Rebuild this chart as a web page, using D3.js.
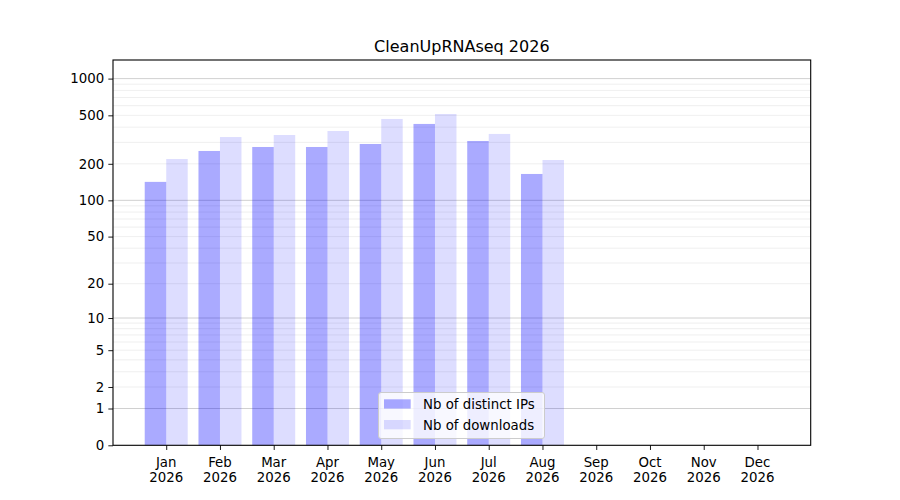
<!DOCTYPE html>
<html><head><meta charset="utf-8">
<script src="https://cdn.jsdelivr.net/npm/d3@7"></script>
<style>
body{margin:0;background:#fff;}
svg{font-family:"DejaVu Sans",sans-serif;}
</style></head>
<body><svg id="c" width="900" height="500"></svg>
<script>
const months = ["Jan","Feb","Mar","Apr","May","Jun","Jul","Aug","Sep","Oct","Nov","Dec"];
const year = "2026";
const distinctIPs = [142,255,275,275,291,425,308,165,0,0,0,0];
const downloads   = [219,332,345,372,467,513,352,215,0,0,0,0];
const yTicks = [0,1,2,5,10,20,50,100,200,500,1000];
const majorGrid = [1,10,100,1000];
const minorGrid = [2,3,4,5,6,7,8,9,20,30,40,50,60,70,80,90,200,300,400,500,600,700,800,900];
const title = "CleanUpRNAseq 2026";
const seriesNames = ["Nb of distinct IPs","Nb of downloads"];

const svg = d3.select("#c");
const L=113, R=810.7, T=60, B=445.3;
const x = d3.scaleLinear().domain([-0.99, 11.99]).range([L,R]);
const y = d3.scaleSymlog().constant(1).domain([0,1420]).range([B,T]);

// grid
svg.append("g").selectAll("line").data(minorGrid).join("line")
  .attr("x1",L).attr("x2",R).attr("y1",d=>y(d)).attr("y2",d=>y(d))
  .attr("stroke","#ebebeb").attr("stroke-width",0.8);
svg.append("g").selectAll("line").data(majorGrid).join("line")
  .attr("x1",L).attr("x2",R).attr("y1",d=>y(d)).attr("y2",d=>y(d))
  .attr("stroke","#c4c4c4").attr("stroke-width",0.8);

// bars
svg.append("g").selectAll("rect").data(distinctIPs).join("rect")
  .attr("x",(d,i)=>x(i-0.4)).attr("width",(d,i)=>x(i)-x(i-0.4))
  .attr("y",d=>y(d)).attr("height",d=>B-y(d))
  .attr("fill","blue").attr("fill-opacity",0.333);
svg.append("g").selectAll("rect").data(downloads).join("rect")
  .attr("x",(d,i)=>x(i)).attr("width",(d,i)=>x(i+0.4)-x(i))
  .attr("y",d=>y(d)).attr("height",d=>B-y(d))
  .attr("fill","blue").attr("fill-opacity",0.134);

// frame
svg.append("rect").attr("x",L).attr("y",T).attr("width",R-L).attr("height",B-T)
  .attr("fill","none").attr("stroke","#000").attr("stroke-width",1.1);

// y axis
const ya = svg.append("g").attr("transform",`translate(${L},0)`)
  .call(d3.axisLeft(y).tickValues(yTicks).tickFormat(d3.format("d")).tickSize(4.67).tickPadding(4.2));
ya.select(".domain").remove();
ya.selectAll("text").attr("font-size","13.33px").attr("fill","#000").attr("font-family","DejaVu Sans");
ya.selectAll("line").attr("stroke","#000").attr("stroke-width",0.9);

// x axis
const xa = svg.append("g").attr("transform",`translate(0,${B})`)
  .call(d3.axisBottom(x).tickValues(d3.range(months.length)).tickFormat("").tickSize(4.67));
xa.select(".domain").remove();
xa.selectAll("line").attr("stroke","#000").attr("stroke-width",0.9);
const xl = svg.append("g").selectAll("text").data(months).join("text")
  .attr("x",(d,i)=>x(i)).attr("text-anchor","middle").attr("font-size","13.33px").attr("fill","#000");
xl.append("tspan").attr("x",(d,i)=>x(i)).attr("y",466.5).text(d=>d);
xl.append("tspan").attr("x",(d,i)=>x(i)).attr("y",482).text(year);

// title
svg.append("text").attr("x",(L+R)/2).attr("y",51.5).attr("text-anchor","middle")
  .attr("font-size","16px").attr("fill","#000").text(title);

// legend
const lg = svg.append("g");
lg.append("rect").attr("x",378.5).attr("y",392.5).attr("width",166).attr("height",46).attr("rx",2.5)
  .attr("fill","#fff").attr("fill-opacity",0.8).attr("stroke","#cccccc").attr("stroke-width",1);
const ops=[0.333,0.134];
seriesNames.forEach((s,i)=>{
  lg.append("rect").attr("x",384).attr("y",399.3+i*20.7).attr("width",26.7).attr("height",9.3)
    .attr("fill","blue").attr("fill-opacity",ops[i]);
  lg.append("text").attr("x",423).attr("y",408.8+i*20.7).attr("font-size","13.33px").attr("fill","#000").text(s);
});
</script></body></html>
